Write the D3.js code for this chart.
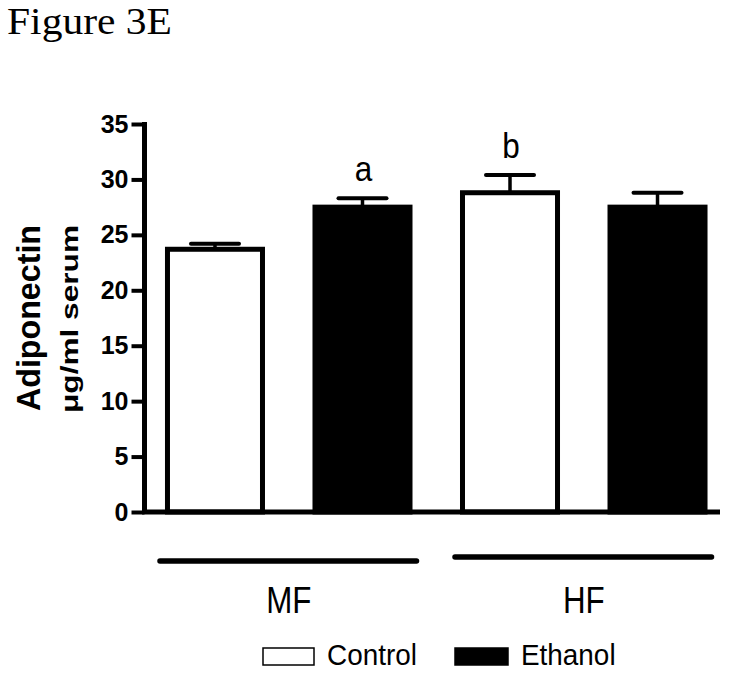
<!DOCTYPE html>
<html>
<head>
<meta charset="utf-8">
<script src="https://cdn.jsdelivr.net/npm/d3@7"></script>
<style>
  body { margin: 0; background: #fff; }
  text { font-family: "Liberation Sans", Arial, sans-serif; }
</style>
</head>
<body>
<svg id="grafico"></svg>
<script>
// dados
const grupos = ['MF', 'HF'];
const tratamentos = ['Control', 'Ethanol'];
const medias = [23.7, 27.5, 28.8, 27.5];
const erros = [0.5, 0.8, 1.6, 1.3];
const letras = ['', 'a', 'b', ''];
const ticksY = [0, 5, 10, 15, 20, 25, 30, 35];

const largura = 729, altura = 676;
const svg = d3.select('#grafico')
    .attr('width', largura)
    .attr('height', altura);

let dados = [];
grupos.forEach((g, i) => {
    tratamentos.forEach((t, j) => {
        let k = i * tratamentos.length + j;
        dados.push({ chave: g + '-' + t, grupo: g, trat: t, valor: medias[k], erro: erros[k], letra: letras[k] });
    });
});

let margem = { esquerda: 144.5, direita: 9, superior: 124, inferior: 164 };

let fnX = d3.scaleBand()
    .domain(dados.map(d => d.chave))
    .range([143, 729.5])
    .paddingInner(0.322)
    .paddingOuter(0.149);

let fnY = d3.scaleLinear()
    .domain([0, 35])
    .range([512, 124]);

let fnCor = d3.scaleOrdinal().domain(tratamentos).range(['#fff', '#000']);

// texto comprimido na horizontal, como na figura
function textoComprimido(x, y, escala) {
    return 'translate(' + x + ',' + y + ') scale(' + escala + ',1)';
}

// titulo
svg.append('text')
    .attr('x', 7).attr('y', 34)
    .attr('textLength', 165)
    .attr('lengthAdjust', 'spacingAndGlyphs')
    .style('font-family', '"Liberation Serif", "Times New Roman", serif')
    .style('font-size', '38px')
    .text('Figure 3E');

// barras
svg.selectAll('.barra')
    .data(dados)
    .enter()
    .append('rect')
    .classed('barra', true)
    .attr('x', d => fnX(d.chave) + 2.5)
    .attr('y', d => fnY(d.valor))
    .attr('width', fnX.bandwidth() - 5)
    .attr('height', d => fnY(0) - fnY(d.valor))
    .attr('fill', d => fnCor(d.trat))
    .attr('stroke', '#000')
    .attr('stroke-width', 5);

// barras de erro
let eb = svg.selectAll('.erro').data(dados).enter().append('g').classed('erro', true);
eb.append('line')
    .attr('x1', d => fnX(d.chave) + fnX.bandwidth() / 2)
    .attr('x2', d => fnX(d.chave) + fnX.bandwidth() / 2)
    .attr('y1', d => fnY(d.valor))
    .attr('y2', d => fnY(d.valor + d.erro))
    .attr('stroke', '#000').attr('stroke-width', 3.5);
eb.append('line')
    .attr('x1', d => fnX(d.chave) + fnX.bandwidth() / 2 - 24)
    .attr('x2', d => fnX(d.chave) + fnX.bandwidth() / 2 + 24)
    .attr('y1', d => fnY(d.valor + d.erro))
    .attr('y2', d => fnY(d.valor + d.erro))
    .attr('stroke', '#000').attr('stroke-width', 4).attr('stroke-linecap', 'round');

// letras de significancia
svg.selectAll('.letra')
    .data(dados.filter(d => d.letra))
    .enter()
    .append('text')
    .classed('letra', true)
    .attr('transform', d => textoComprimido(fnX(d.chave) + fnX.bandwidth() / 2 + 1, fnY(d.valor + d.erro) - 17, 0.9))
    .style('text-anchor', 'middle')
    .style('font-size', '35px')
    .text(d => d.letra);

// eixo Y
let eixoY = d3.axisLeft(fnY).tickValues(ticksY).tickSize(13).tickPadding(3);
let gY = svg.append('g')
    .attr('transform', 'translate(' + margem.esquerda + ',0)')
    .call(eixoY);
gY.select('.domain').remove();
gY.append('line')
    .attr('x1', 0).attr('x2', 0)
    .attr('y1', fnY(35) - 2).attr('y2', fnY(0) + 2)
    .attr('stroke', '#000').attr('stroke-width', 5);
gY.selectAll('.tick line').attr('stroke-width', 4);
gY.selectAll('.tick text')
    .style('font-size', '25px')
    .style('font-weight', 'bold')
    .style('font-family', '"Liberation Sans", Arial, sans-serif')
    .attr('fill', '#000');

// eixo X (linha de base)
svg.append('line')
    .attr('x1', margem.esquerda - 2.5).attr('x2', 720)
    .attr('y1', fnY(0)).attr('y2', fnY(0))
    .attr('stroke', '#000').attr('stroke-width', 5);

// titulo do eixo Y (duas linhas do mesmo comprimento)
svg.append('text')
    .attr('transform', 'translate(40,411) rotate(-90)')
    .attr('textLength', 186)
    .attr('lengthAdjust', 'spacingAndGlyphs')
    .style('font-size', '34px')
    .style('font-weight', 'bold')
    .text('Adiponectin');
svg.append('text')
    .attr('transform', 'translate(78,413) rotate(-90)')
    .attr('textLength', 188)
    .attr('lengthAdjust', 'spacingAndGlyphs')
    .style('font-size', '24px')
    .style('font-weight', 'bold')
    .text('\u03bcg/ml serum');

// linhas dos grupos
let linhasY = [561, 557];
grupos.forEach((g, i) => {
    let primeiro = fnX(g + '-' + tratamentos[0]);
    let ultimo = fnX(g + '-' + tratamentos[tratamentos.length - 1]) + fnX.bandwidth();
    svg.append('line')
        .attr('x1', primeiro - 5).attr('x2', ultimo + 4)
        .attr('y1', linhasY[i]).attr('y2', linhasY[i])
        .attr('stroke', '#000').attr('stroke-width', 5.5).attr('stroke-linecap', 'round');
    svg.append('text')
        .attr('transform', textoComprimido((primeiro + ultimo) / 2, 613, 0.87))
        .style('text-anchor', 'middle')
        .style('font-size', '36px')
        .text(g);
});

// legenda
let legX = [263, 455];
let legLarg = [51, 53];
tratamentos.forEach((t, i) => {
    svg.append('rect')
        .attr('x', legX[i]).attr('y', 648)
        .attr('width', legLarg[i]).attr('height', 17)
        .attr('fill', fnCor(t))
        .attr('stroke', '#000').attr('stroke-width', 1.5);
    svg.append('text')
        .attr('transform', textoComprimido(legX[i] + legLarg[i] + 13, 665, 0.93))
        .style('font-size', '30px')
        .text(t);
});
</script>
</body>
</html>
